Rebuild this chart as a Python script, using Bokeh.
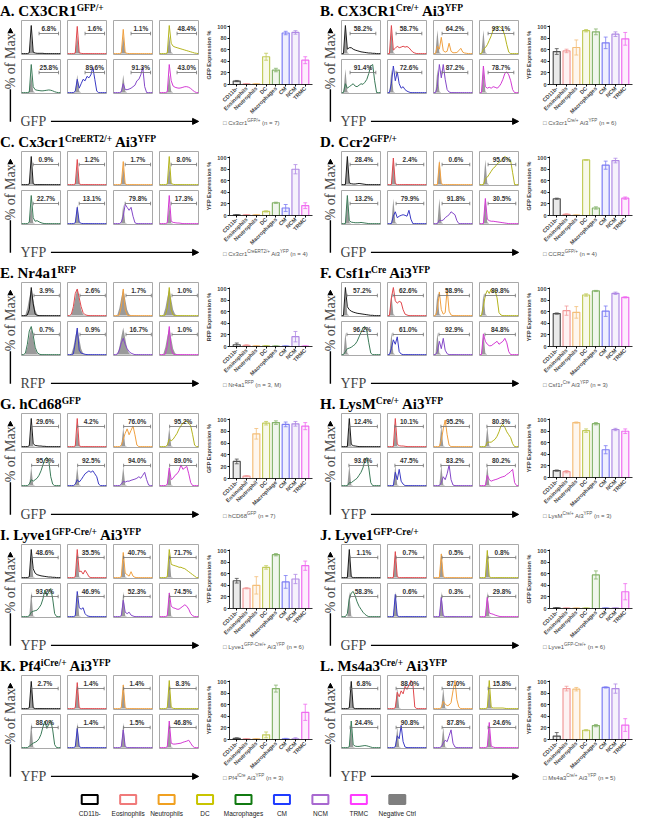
from math import pi

from bokeh.core.properties import value
from bokeh.embed import file_html
from bokeh.layouts import column, row
from bokeh.models import Arrow, ColumnDataSource, Div, FactorRange, Label, NormalHead, Range1d
from bokeh.plotting import figure
from bokeh.resources import INLINE
from bokeh.transform import dodge

# fluorescence channel bins (% of axis) shared by every histogram
BINS = [0, 5, 10, 15, 20, 25, 30, 35, 40, 45, 50, 55, 60, 65, 70, 75, 80, 85, 90, 95, 100]

CELLS = ["CD11b-", "Eosinophils", "Neutrophils", "DC", "Macrophages", "CM", "NCM", "TRMC"]
CELLS_G = ["CD11b-", "Eosinophil", "Neutrophil", "DC", "Macrophage", "CM", "NCM", "TRMC"]
LEGEND_NAMES = ["CD11b-", "Eosinophils", "Neutrophils", "DC", "Macrophages", "CM", "NCM", "TRMC", "Negative Ctrl"]

HIST_COLORS = ["#1a1a1a", "#e0474c", "#f0a040", "#b4b41e", "#3b7a58", "#3a3ac4", "#8448c8", "#d33ad3"]
BAR_COLORS = ["#505050", "#f29a9a", "#f4bf7a", "#c2cc5c", "#86b46c", "#7c7cf4", "#b08ae4", "#f06cf0"]
LEGEND_LINE = ["#000000", "#f07a7a", "#f0a020", "#c8c400", "#117a11", "#1f3cff", "#a868d0", "#ff3cff", "#7f7f7f"]
LEGEND_FILL = ["white", "white", "white", "white", "white", "white", "white", "white", "#7f7f7f"]
CTRL_COLOR = "#9a9a9a"

# ---- A. CX3CR1 GFP/+
HIST_A = [
    [0, 0, 0, 0, 3, 95, 5, 2, 1, 1, 1, 1, 0, 0, 0, 0, 0, 0, 0, 0, 0],
    [0, 0, 0, 0, 2, 92, 3, 1, 0, 0, 0, 0, 0, 0, 0, 0, 0, 0, 0, 0, 0],
    [0, 0, 0, 0, 2, 82, 3, 1, 0, 0, 0, 0, 0, 0, 0, 0, 0, 0, 0, 0, 0],
    [0, 0, 0, 0, 2, 95, 35, 25, 22, 20, 18, 16, 14, 12, 10, 8, 6, 4, 2, 1, 0],
    [0, 0, 0, 0, 2, 95, 20, 10, 8, 7, 6, 6, 7, 8, 9, 8, 6, 3, 1, 0, 0],
    [0, 0, 0, 0, 5, 45, 15, 30, 45, 40, 55, 50, 60, 85, 45, 5, 0, 0, 0, 0, 0],
    [0, 0, 0, 0, 3, 30, 10, 10, 12, 15, 20, 25, 40, 45, 60, 85, 20, 0, 0, 0, 0],
    [0, 0, 0, 0, 3, 95, 40, 22, 18, 16, 15, 16, 18, 20, 20, 18, 14, 8, 3, 0, 0],
]
CTRL_A = [0, 0, 0, 0, 4, 60, 5, 0, 0, 0, 0, 0, 0, 0, 0, 0, 0, 0, 0, 0, 0]
PCT_A = ["6.8%", "1.6%", "1.1%", "48.4%", "25.8%", "89.6%", "91.3%", "43.0%"]
GATE_A = [45, 95]
BAR_A = [6, 1, 1, 48, 25, 89, 90, 42]
ERR_A = [1, 0.5, 0.5, 6, 3, 3, 3, 6]

# ---- B. CX3CR1 Cre/+ Ai3 YFP
HIST_B = [
    [0, 0, 95, 15, 20, 20, 15, 12, 10, 8, 6, 5, 4, 3, 2, 2, 1, 1, 0, 0, 0],
    [0, 0, 95, 12, 18, 25, 20, 22, 25, 22, 24, 20, 12, 5, 2, 0, 0, 0, 0, 0, 0],
    [0, 0, 25, 15, 55, 10, 5, 8, 35, 8, 3, 3, 4, 10, 18, 5, 2, 1, 0, 0, 0],
    [0, 0, 15, 20, 30, 45, 60, 80, 90, 85, 92, 88, 80, 60, 30, 5, 0, 0, 0, 0, 0],
    [0, 0, 30, 15, 20, 25, 30, 22, 20, 25, 30, 28, 35, 45, 65, 90, 95, 40, 0, 0, 0],
    [0, 0, 30, 90, 40, 70, 30, 15, 20, 10, 5, 2, 0, 0, 0, 0, 0, 0, 0, 0, 0],
    [0, 0, 20, 95, 50, 95, 45, 10, 2, 0, 0, 0, 0, 0, 0, 0, 0, 0, 0, 0, 0],
    [0, 0, 90, 20, 15, 18, 15, 20, 18, 15, 20, 30, 45, 65, 70, 60, 40, 10, 0, 0, 0],
]
CTRL_B = [0, 0, 80, 4, 0, 0, 0, 0, 0, 0, 0, 0, 0, 0, 0, 0, 0, 0, 0, 0, 0]
PCT_B = ["58.2%", "58.7%", "64.2%", "93.1%", "91.4%", "72.6%", "87.2%", "78.7%"]
GATE_B = [22, 88]
BAR_B = [57, 58, 64, 93, 91, 72, 87, 79]
ERR_B = [5, 3, 13, 2, 5, 10, 4, 11]

# ---- C. Cx3cr1 CreERT2/+ Ai3 YFP
HIST_C = [
    [0, 0, 0, 0, 2, 95, 3, 0, 0, 0, 0, 0, 0, 0, 0, 0, 0, 0, 0, 0, 0],
    [0, 0, 0, 0, 2, 85, 3, 0, 0, 0, 0, 0, 0, 0, 0, 0, 0, 0, 0, 0, 0],
    [0, 0, 0, 0, 2, 78, 2, 0, 0, 0, 0, 0, 0, 0, 0, 0, 0, 0, 0, 0, 0],
    [0, 0, 0, 0, 2, 95, 4, 1, 0, 0, 0, 0, 0, 0, 0, 0, 0, 0, 0, 0, 0],
    [0, 0, 0, 0, 5, 95, 20, 8, 10, 6, 3, 1, 0, 0, 0, 0, 0, 0, 0, 0, 0],
    [0, 0, 0, 0, 3, 55, 5, 1, 0, 0, 0, 0, 0, 0, 0, 0, 0, 0, 0, 0, 0],
    [0, 0, 0, 0, 5, 25, 65, 55, 45, 55, 25, 3, 0, 0, 0, 0, 0, 0, 0, 0, 0],
    [0, 0, 0, 0, 3, 95, 8, 4, 3, 2, 2, 1, 0, 0, 0, 0, 0, 0, 0, 0, 0],
]
CTRL_C = [0, 0, 0, 0, 3, 65, 3, 0, 0, 0, 0, 0, 0, 0, 0, 0, 0, 0, 0, 0, 0]
PCT_C = ["0.9%", "1.2%", "1.7%", "8.0%", "22.7%", "13.1%", "79.8%", "17.3%"]
GATE_C = [30, 95]
BAR_C = [1, 1, 1, 7, 22, 13, 80, 17]
ERR_C = [0.5, 0.5, 0.5, 1, 1, 6, 8, 5]

# ---- D. Ccr2 GFP/+
HIST_D = [
    [0, 0, 0, 95, 6, 3, 2, 2, 3, 4, 3, 2, 1, 0, 0, 0, 0, 0, 0, 0, 0],
    [0, 0, 0, 90, 3, 0, 0, 0, 0, 0, 0, 0, 0, 0, 0, 0, 0, 0, 0, 0, 0],
    [0, 0, 0, 75, 3, 0, 0, 0, 0, 0, 0, 0, 0, 0, 0, 0, 0, 0, 0, 0, 0],
    [0, 0, 0, 20, 25, 35, 45, 55, 60, 70, 75, 80, 90, 95, 90, 85, 80, 40, 0, 0, 0],
    [0, 0, 0, 95, 10, 5, 4, 3, 3, 3, 4, 3, 2, 1, 0, 0, 0, 0, 0, 0, 0],
    [0, 0, 0, 25, 40, 20, 25, 28, 30, 28, 25, 45, 15, 0, 0, 0, 0, 0, 0, 0, 0],
    [0, 0, 0, 12, 10, 12, 20, 25, 30, 40, 35, 30, 10, 0, 0, 0, 0, 0, 0, 0, 0],
    [0, 0, 0, 85, 15, 10, 8, 8, 7, 6, 5, 4, 3, 2, 1, 0, 0, 0, 0, 0, 0],
]
CTRL_D = [0, 0, 0, 85, 5, 0, 0, 0, 0, 0, 0, 0, 0, 0, 0, 0, 0, 0, 0, 0, 0]
PCT_D = ["28.4%", "2.4%", "0.6%", "95.6%", "13.2%", "79.9%", "91.8%", "30.5%"]
GATE_D = [22, 93]
BAR_D = [29, 2, 0.5, 96, 13, 87, 95, 30]
ERR_D = [1, 1, 0.3, 0.5, 2, 7, 4, 2]

# ---- E. Nr4a1 RFP
HIST_E = [
    [0, 0, 0, 2, 20, 95, 40, 5, 1, 0, 0, 0, 0, 0, 0, 0, 0, 0, 0, 0, 0],
    [0, 0, 5, 30, 75, 90, 60, 30, 10, 3, 1, 0, 0, 0, 0, 0, 0, 0, 0, 0, 0],
    [0, 0, 0, 2, 30, 90, 20, 2, 0, 0, 0, 0, 0, 0, 0, 0, 0, 0, 0, 0, 0],
    [0, 0, 0, 2, 25, 95, 20, 2, 0, 0, 0, 0, 0, 0, 0, 0, 0, 0, 0, 0, 0],
    [0, 0, 5, 35, 80, 95, 65, 25, 8, 2, 0, 0, 0, 0, 0, 0, 0, 0, 0, 0, 0],
    [0, 0, 0, 2, 40, 90, 15, 5, 3, 1, 0, 0, 0, 0, 0, 0, 0, 0, 0, 0, 0],
    [0, 0, 2, 15, 40, 55, 35, 20, 10, 5, 2, 0, 0, 0, 0, 0, 0, 0, 0, 0, 0],
    [0, 0, 0, 2, 30, 95, 20, 2, 0, 0, 0, 0, 0, 0, 0, 0, 0, 0, 0, 0, 0],
]
CTRL_E = [0, 0, 3, 25, 60, 92, 55, 20, 5, 1, 0, 0, 0, 0, 0, 0, 0, 0, 0, 0, 0]
PCT_E = ["3.9%", "2.6%", "1.7%", "1.0%", "0.7%", "0.9%", "16.7%", "1.0%"]
GATE_E = [32, 97]
BAR_E = [3, 2, 1, 1, 0.5, 0.5, 17, 0.5]
ERR_E = [3, 1, 0.5, 0.5, 0.3, 0.3, 9, 0.3]

# ---- F. Csf1r Cre Ai3 YFP
HIST_F = [
    [0, 0, 95, 30, 20, 15, 12, 10, 8, 7, 6, 5, 4, 3, 2, 1, 1, 0, 0, 0, 0],
    [0, 0, 60, 95, 50, 42, 48, 45, 20, 5, 2, 0, 0, 0, 0, 0, 0, 0, 0, 0, 0],
    [0, 0, 20, 80, 20, 5, 10, 90, 15, 2, 0, 0, 0, 0, 0, 0, 0, 0, 0, 0, 0],
    [0, 0, 30, 70, 85, 75, 90, 80, 85, 60, 10, 2, 0, 0, 0, 0, 0, 0, 0, 0, 0],
    [0, 0, 10, 20, 22, 25, 30, 35, 45, 60, 75, 90, 95, 80, 40, 5, 0, 0, 0, 0, 0],
    [0, 0, 20, 50, 35, 60, 10, 2, 0, 0, 0, 0, 0, 0, 0, 0, 0, 0, 0, 0, 0],
    [0, 0, 10, 45, 20, 55, 15, 3, 0, 0, 0, 0, 0, 0, 0, 0, 0, 0, 0, 0, 0],
    [0, 0, 70, 45, 35, 30, 30, 35, 40, 45, 35, 40, 45, 55, 40, 10, 0, 0, 0, 0, 0],
]
CTRL_F = [0, 0, 75, 5, 0, 0, 0, 0, 0, 0, 0, 0, 0, 0, 0, 0, 0, 0, 0, 0, 0]
PCT_F = ["57.2%", "62.6%", "58.9%", "89.8%", "96.2%", "61.0%", "92.9%", "84.8%"]
GATE_F = [14, 92]
BAR_F = [57, 62, 59, 89, 96, 61, 92, 85]
ERR_F = [1, 8, 10, 2, 1, 9, 2, 1]

# ---- G. hCd68 GFP
HIST_G = [
    [0, 0, 0, 0, 3, 95, 10, 4, 3, 2, 2, 1, 1, 0, 0, 0, 0, 0, 0, 0, 0],
    [0, 0, 0, 0, 2, 95, 3, 0, 0, 0, 0, 0, 0, 0, 0, 0, 0, 0, 0, 0, 0],
    [0, 0, 0, 0, 5, 25, 45, 60, 40, 55, 70, 40, 5, 0, 0, 0, 0, 0, 0, 0, 0],
    [0, 0, 0, 0, 5, 25, 20, 25, 35, 45, 60, 70, 80, 85, 85, 80, 70, 40, 5, 0, 0],
    [0, 0, 0, 0, 5, 20, 15, 20, 25, 35, 50, 70, 90, 95, 85, 30, 5, 0, 0, 0, 0],
    [0, 0, 0, 0, 5, 20, 12, 20, 30, 40, 45, 50, 45, 50, 40, 30, 5, 0, 0, 0, 0],
    [0, 0, 0, 0, 5, 15, 12, 15, 15, 18, 20, 22, 25, 30, 25, 35, 45, 20, 2, 0, 0],
    [0, 0, 0, 0, 5, 60, 20, 25, 35, 40, 50, 70, 55, 60, 65, 40, 10, 0, 0, 0, 0],
]
CTRL_G = [0, 0, 0, 0, 3, 65, 3, 0, 0, 0, 0, 0, 0, 0, 0, 0, 0, 0, 0, 0, 0]
PCT_G = ["29.6%", "4.2%", "76.0%", "95.2%", "95.9%", "92.5%", "94.0%", "89.0%"]
GATE_G = [26, 95]
BAR_G = [29, 4, 76, 94, 95, 92, 93, 89]
ERR_G = [4, 1, 9, 3, 3, 4, 4, 6]

# ---- H. LysM Cre/+ Ai3 YFP
HIST_H = [
    [0, 0, 0, 0, 95, 8, 3, 2, 1, 0, 0, 0, 0, 0, 0, 0, 0, 0, 0, 0, 0],
    [0, 0, 0, 0, 95, 8, 3, 2, 2, 1, 0, 0, 0, 0, 0, 0, 0, 0, 0, 0, 0],
    [0, 0, 0, 0, 20, 60, 90, 40, 5, 0, 0, 0, 0, 0, 0, 0, 0, 0, 0, 0, 0],
    [0, 0, 0, 0, 15, 15, 15, 20, 25, 35, 50, 70, 75, 65, 50, 40, 30, 10, 0, 0, 0],
    [0, 0, 0, 0, 10, 10, 15, 20, 25, 35, 45, 60, 85, 95, 60, 10, 0, 0, 0, 0, 0],
    [0, 0, 0, 0, 45, 20, 55, 15, 5, 0, 0, 0, 0, 0, 0, 0, 0, 0, 0, 0, 0],
    [0, 0, 0, 0, 10, 30, 20, 40, 70, 20, 2, 0, 0, 0, 0, 0, 0, 0, 0, 0, 0],
    [0, 0, 0, 0, 35, 20, 15, 18, 20, 22, 25, 28, 30, 32, 38, 42, 48, 55, 10, 0, 0],
]
CTRL_H = [0, 0, 0, 0, 70, 3, 0, 0, 0, 0, 0, 0, 0, 0, 0, 0, 0, 0, 0, 0, 0]
PCT_H = ["12.4%", "10.1%", "95.2%", "80.3%", "93.6%", "47.5%", "83.2%", "80.2%"]
GATE_H = [19, 92]
BAR_H = [12, 10, 95, 81, 93, 48, 83, 80]
ERR_H = [1, 2, 1, 3, 2, 7, 2, 4]

# ---- I. Lyve1 GFP-Cre/+ Ai3 YFP
HIST_I = [
    [0, 0, 0, 0, 3, 95, 30, 15, 10, 8, 6, 5, 4, 3, 2, 2, 1, 1, 0, 0, 0],
    [0, 0, 0, 0, 3, 95, 20, 22, 12, 25, 15, 3, 0, 0, 0, 0, 0, 0, 0, 0, 0],
    [0, 0, 0, 0, 3, 85, 15, 10, 5, 20, 5, 1, 0, 0, 0, 0, 0, 0, 0, 0, 0],
    [0, 0, 0, 0, 3, 95, 45, 42, 40, 38, 35, 35, 32, 30, 25, 20, 15, 10, 5, 0, 0],
    [0, 0, 0, 0, 3, 15, 18, 20, 22, 30, 40, 60, 90, 70, 85, 95, 60, 10, 0, 0, 0],
    [0, 0, 0, 0, 3, 85, 30, 25, 30, 10, 3, 1, 0, 0, 0, 0, 0, 0, 0, 0, 0],
    [0, 0, 0, 0, 3, 55, 15, 10, 15, 5, 2, 0, 0, 0, 0, 0, 0, 0, 0, 0, 0],
    [0, 0, 0, 0, 3, 80, 35, 30, 28, 25, 25, 30, 35, 40, 35, 25, 10, 3, 0, 0, 0],
]
CTRL_I = [0, 0, 0, 0, 3, 85, 3, 0, 0, 0, 0, 0, 0, 0, 0, 0, 0, 0, 0, 0, 0]
PCT_I = ["48.6%", "35.5%", "40.7%", "71.7%", "93.2%", "46.9%", "52.3%", "74.5%"]
GATE_I = [26, 94]
BAR_I = [48, 35, 40, 71, 93, 46, 51, 74]
ERR_I = [4, 1, 15, 3, 2, 11, 8, 8]

# ---- J. Lyve1 GFP-Cre/+
HIST_J = [
    [0, 0, 0, 0, 95, 3, 0, 0, 0, 0, 0, 0, 0, 0, 0, 0, 0, 0, 0, 0, 0],
    [0, 0, 0, 0, 88, 3, 0, 0, 0, 0, 0, 0, 0, 0, 0, 0, 0, 0, 0, 0, 0],
    [0, 0, 0, 0, 80, 3, 0, 0, 0, 0, 0, 0, 0, 0, 0, 0, 0, 0, 0, 0, 0],
    [0, 0, 0, 0, 92, 3, 0, 0, 0, 0, 0, 0, 0, 0, 0, 0, 0, 0, 0, 0, 0],
    [0, 0, 0, 10, 60, 80, 85, 70, 50, 35, 25, 15, 8, 3, 0, 0, 0, 0, 0, 0, 0],
    [0, 0, 0, 0, 75, 3, 0, 0, 0, 0, 0, 0, 0, 0, 0, 0, 0, 0, 0, 0, 0],
    [0, 0, 0, 0, 65, 3, 0, 0, 0, 0, 0, 0, 0, 0, 0, 0, 0, 0, 0, 0, 0],
    [0, 0, 0, 0, 65, 12, 10, 8, 5, 3, 1, 0, 0, 0, 0, 0, 0, 0, 0, 0, 0],
]
CTRL_J = [0, 0, 0, 0, 85, 3, 0, 0, 0, 0, 0, 0, 0, 0, 0, 0, 0, 0, 0, 0, 0]
PCT_J = ["1.1%", "0.7%", "0.5%", "0.8%", "58.3%", "0.6%", "0.3%", "29.8%"]
GATE_J = [22, 93]
BAR_J = [1, 0.5, 0.5, 0.5, 58, 0.5, 0.5, 29]
ERR_J = [0.5, 0.3, 0.3, 0.3, 7, 0.3, 0.3, 14]

# ---- K. Pf4 iCre/+ Ai3 YFP
HIST_K = [
    [0, 0, 0, 0, 3, 92, 3, 0, 0, 0, 0, 0, 0, 0, 0, 0, 0, 0, 0, 0, 0],
    [0, 0, 0, 0, 3, 88, 3, 0, 0, 0, 0, 0, 0, 0, 0, 0, 0, 0, 0, 0, 0],
    [0, 0, 0, 0, 3, 80, 3, 0, 0, 0, 0, 0, 0, 0, 0, 0, 0, 0, 0, 0, 0],
    [0, 0, 0, 0, 3, 95, 5, 1, 0, 0, 0, 0, 0, 0, 0, 0, 0, 0, 0, 0, 0],
    [0, 0, 0, 0, 5, 10, 15, 18, 22, 30, 45, 70, 90, 65, 80, 92, 60, 10, 0, 0, 0],
    [0, 0, 0, 0, 3, 65, 4, 0, 0, 0, 0, 0, 0, 0, 0, 0, 0, 0, 0, 0, 0],
    [0, 0, 0, 0, 3, 60, 4, 0, 0, 0, 0, 0, 0, 0, 0, 0, 0, 0, 0, 0, 0],
    [0, 0, 0, 0, 3, 90, 15, 12, 12, 13, 14, 15, 18, 20, 22, 25, 15, 5, 0, 0, 0],
]
CTRL_K = [0, 0, 0, 0, 3, 85, 3, 0, 0, 0, 0, 0, 0, 0, 0, 0, 0, 0, 0, 0, 0]
PCT_K = ["2.7%", "1.4%", "1.4%", "8.3%", "88.0%", "1.4%", "1.5%", "46.8%"]
GATE_K = [26, 94]
BAR_K = [2, 1, 1, 8, 88, 1, 1, 47]
ERR_K = [1, 0.5, 0.5, 5, 6, 1, 2, 14]

# ---- L. Ms4a3 Cre/+ Ai3 YFP
HIST_L = [
    [0, 0, 0, 0, 3, 92, 3, 0, 0, 0, 0, 0, 0, 0, 0, 0, 0, 0, 0, 0, 0],
    [0, 0, 0, 0, 3, 55, 40, 60, 50, 75, 65, 80, 95, 85, 5, 0, 0, 0, 0, 0, 0],
    [0, 0, 0, 0, 3, 25, 15, 10, 12, 20, 60, 95, 30, 5, 0, 0, 0, 0, 0, 0, 0],
    [0, 0, 0, 0, 3, 95, 5, 2, 2, 2, 2, 2, 2, 1, 0, 0, 0, 0, 0, 0, 0],
    [0, 0, 0, 0, 3, 90, 10, 5, 4, 4, 5, 6, 7, 6, 4, 2, 0, 0, 0, 0, 0],
    [0, 0, 0, 0, 3, 40, 30, 75, 20, 2, 0, 0, 0, 0, 0, 0, 0, 0, 0, 0, 0],
    [0, 0, 0, 0, 3, 15, 25, 20, 40, 60, 15, 2, 0, 0, 0, 0, 0, 0, 0, 0, 0],
    [0, 0, 0, 0, 3, 85, 5, 2, 0, 0, 0, 0, 0, 0, 0, 0, 0, 0, 0, 0, 0],
]
CTRL_L = [0, 0, 0, 0, 3, 70, 3, 0, 0, 0, 0, 0, 0, 0, 0, 0, 0, 0, 0, 0, 0]
PCT_L = ["6.8%", "88.0%", "87.0%", "15.8%", "24.4%", "90.8%", "87.8%", "24.6%"]
GATE_L = [22, 93]
BAR_L = [6, 88, 87, 16, 24, 90, 88, 25]
ERR_L = [6, 4, 3, 1, 2, 1, 8, 11]

# title, marker, histograms, control, percentages, gate, bars, errors, categories, note
PANELS = [
    ("A. CX3CR1<sup>GFP/+</sup>", "GFP", HIST_A, CTRL_A, PCT_A, GATE_A, BAR_A, ERR_A, CELLS,
     "Cx3cr1<sup>GFP/+</sup> (n = 7)"),
    ("B. CX3CR1<sup>Cre/+</sup> Ai3<sup>YFP</sup>", "YFP", HIST_B, CTRL_B, PCT_B, GATE_B, BAR_B, ERR_B, CELLS,
     "Cx3cr1<sup>Cre/+</sup> Ai3<sup>YFP</sup> (n = 6)"),
    ("C. Cx3cr1<sup>CreERT2/+</sup> Ai3<sup>YFP</sup>", "YFP", HIST_C, CTRL_C, PCT_C, GATE_C, BAR_C, ERR_C, CELLS,
     "Cx3cr1<sup>CreERT2/+</sup> Ai3<sup>YFP</sup> (n = 4)"),
    ("D. Ccr2<sup>GFP/+</sup>", "GFP", HIST_D, CTRL_D, PCT_D, GATE_D, BAR_D, ERR_D, CELLS,
     "CCR2<sup>GFP/+</sup> (n = 4)"),
    ("E. Nr4a1<sup>RFP</sup>", "RFP", HIST_E, CTRL_E, PCT_E, GATE_E, BAR_E, ERR_E, CELLS,
     "Nr4a1<sup>RFP</sup> (n = 3, M)"),
    ("F. Csf1r<sup>Cre</sup> Ai3<sup>YFP</sup>", "YFP", HIST_F, CTRL_F, PCT_F, GATE_F, BAR_F, ERR_F, CELLS,
     "Csf1r<sup>Cre</sup> Ai3<sup>YFP</sup> (n = 3)"),
    ("G. hCd68<sup>GFP</sup>", "GFP", HIST_G, CTRL_G, PCT_G, GATE_G, BAR_G, ERR_G, CELLS_G,
     "hCD68<sup>GFP</sup> (n = 7)"),
    ("H. LysM<sup>Cre/+</sup> Ai3<sup>YFP</sup>", "YFP", HIST_H, CTRL_H, PCT_H, GATE_H, BAR_H, ERR_H, CELLS,
     "LysM<sup>Cre/+</sup> Ai3<sup>YFP</sup> (n = 3)"),
    ("I. Lyve1<sup>GFP-Cre/+</sup> Ai3<sup>YFP</sup>", "YFP", HIST_I, CTRL_I, PCT_I, GATE_I, BAR_I, ERR_I, CELLS,
     "Lyve1<sup>GFP-Cre/+</sup> Ai3<sup>YFP</sup> (n = 6)"),
    ("J. Lyve1<sup>GFP-Cre/+</sup>", "GFP", HIST_J, CTRL_J, PCT_J, GATE_J, BAR_J, ERR_J, CELLS,
     "Lyve1<sup>GFP-Cre/+</sup> (n = 6)"),
    ("K. Pf4<sup>iCre/+</sup> Ai3<sup>YFP</sup>", "YFP", HIST_K, CTRL_K, PCT_K, GATE_K, BAR_K, ERR_K, CELLS,
     "Pf4<sup>iCre</sup> Ai3<sup>YFP</sup> (n = 3)"),
    ("L. Ms4a3<sup>Cre/+</sup> Ai3<sup>YFP</sup>", "YFP", HIST_L, CTRL_L, PCT_L, GATE_L, BAR_L, ERR_L, CELLS,
     "Ms4a3<sup>Cre/+</sup> Ai3<sup>YFP</sup> (n = 5)"),
]

SANS = "Liberation Sans"
SERIF = "Liberation Serif"
GATE_Y = 68
CELL_W, CELL_H = 41, 36
TITLE_H = 19
LEFT_H = 110


def bare(p):
    p.xgrid.visible = False
    p.ygrid.visible = False
    return p


def hist_cell(values, ctrl, color, pct, gate):
    p = bare(figure(width=CELL_W, height=CELL_H, x_range=Range1d(0, 100), y_range=Range1d(-3, 112),
                    toolbar_location=None, output_backend="svg", min_border=1,
                    x_axis_location=None, y_axis_location=None))
    p.outline_line_color = "#a9a9a9"
    p.varea(x=BINS, y1=0, y2=ctrl, fill_color=CTRL_COLOR)
    p.line(BINS, values, line_color=color, line_width=1)
    p.segment(x0=[gate[0]], y0=[GATE_Y], x1=[gate[1]], y1=[GATE_Y], line_color="#707070", line_width=0.8)
    p.segment(x0=gate, y0=[GATE_Y - 6, GATE_Y - 6], x1=gate, y1=[GATE_Y + 6, GATE_Y + 6],
              line_color="#707070", line_width=0.8)
    p.add_layout(Label(x=(gate[0] + gate[1]) / 2, y=GATE_Y + 6, text=pct, text_align="center",
                       text_baseline="bottom", text_font=SANS, text_font_size="6.5px",
                       text_font_style="bold", text_color="#333333"))
    return p


def y_arrow():
    p = bare(figure(width=18, height=LEFT_H, x_range=Range1d(0, 1), y_range=Range1d(0, 1),
                    toolbar_location=None, output_backend="svg", min_border=0,
                    x_axis_location=None, y_axis_location=None, outline_line_color=None))
    p.add_layout(Arrow(end=NormalHead(size=6, fill_color="black", line_color="black"),
                       x_start=0.55, y_start=0.07, x_end=0.55, y_end=0.92, line_width=1.4))
    p.add_layout(Label(x=0.55, y=0.62, text="% of Max", angle=pi / 2, text_align="center",
                       text_baseline="middle", text_font=SERIF, text_font_size="14px",
                       background_fill_color="white"))
    return p


def x_arrow(marker):
    p = bare(figure(width=4 * CELL_W + 15, height=18, x_range=Range1d(0, 1), y_range=Range1d(0, 1),
                    toolbar_location=None, output_backend="svg", min_border=0,
                    x_axis_location=None, y_axis_location=None, outline_line_color=None))
    p.add_layout(Label(x=0.0, y=0.45, text=marker, text_baseline="middle", text_font=SERIF,
                       text_font_size="14px"))
    p.add_layout(Arrow(end=NormalHead(size=6, fill_color="black", line_color="black"),
                       x_start=0.17, y_start=0.45, x_end=0.995, y_end=0.45, line_width=1.4))
    return p


def bar_chart(cats, vals, errs, ylabel):
    src = ColumnDataSource(dict(
        cat=cats, val=vals,
        lo=[max(v - e, 0) for v, e in zip(vals, errs)],
        hi=[v + e for v, e in zip(vals, errs)],
        color=BAR_COLORS,
    ))
    p = bare(figure(width=112, height=100, x_range=FactorRange(*cats, range_padding=0.06),
                    y_range=Range1d(0, 102), toolbar_location=None, output_backend="svg",
                    min_border_left=26, min_border_right=3, min_border_top=6, min_border_bottom=34))
    p.outline_line_color = None
    p.vbar(x="cat", top="val", width=0.72, source=src, line_color="color", fill_color="color",
           fill_alpha=0.12, line_width=1.2)
    p.segment(x0="cat", y0="lo", x1="cat", y1="hi", source=src, line_color="color", line_width=0.8)
    for end in ("lo", "hi"):
        p.segment(x0=dodge("cat", -0.2, range=p.x_range), y0=end,
                  x1=dodge("cat", 0.2, range=p.x_range), y1=end,
                  source=src, line_color="color", line_width=0.8)
    p.yaxis.ticker = [0, 20, 40, 60, 80, 100]
    p.yaxis.axis_label = ylabel
    p.yaxis.axis_label_text_font = SANS
    p.yaxis.axis_label_text_font_size = "5.5px"
    p.yaxis.axis_label_text_font_style = "bold"
    p.yaxis.axis_label_standoff = 2
    p.axis.major_label_text_font = SANS
    p.axis.major_label_text_font_size = "5.5px"
    p.axis.major_label_text_font_style = "bold"
    p.axis.major_label_standoff = 1
    p.axis.major_tick_out = 2
    p.axis.major_tick_in = 0
    p.axis.minor_tick_out = 0
    p.axis.minor_tick_in = 0
    p.axis.axis_line_width = 0.8
    p.xaxis.major_label_orientation = pi / 4
    return p


def title_div(html):
    html = html.replace("<sup>", '<sup style="font-size:9.5px;vertical-align:5px;line-height:0">')
    return Div(text='<div style="padding-top:4px">' + html + "</div>", width=315, height=TITLE_H, margin=0,
               styles={"font-family": SERIF, "font-weight": "bold", "font-size": "15px",
                       "line-height": "15px", "white-space": "nowrap"})


def note_div(html):
    html = html.replace("<sup>", '<sup style="font-size:4.5px;line-height:0">')
    return Div(text='<div style="padding-left:20px;text-align:center">&#9633; ' + html + "</div>",
               width=112, height=12, margin=0,
               styles={"font-family": SANS, "font-size": "6px", "color": "#555555",
                       "white-space": "nowrap"})


def half(panel):
    title, marker, hist, ctrl, pct, gate, bars, errs, cats, note = panel
    cells = [hist_cell(hist[i], ctrl, HIST_COLORS[i], pct[i], gate) for i in range(8)]
    grid = column(row(cells[:4], spacing=5), row(cells[4:], spacing=5), spacing=3)
    left = row(y_arrow(), column(grid, x_arrow(marker), spacing=LEFT_H - 2 * CELL_H - 3 - 18), spacing=2)
    right = column(bar_chart(cats, bars, errs, marker + " Expression %"), note_div(note))
    return column(title_div(title), row(left, right, spacing=4))


def legend_fig():
    p = bare(figure(width=635, height=34, x_range=FactorRange(*LEGEND_NAMES), y_range=Range1d(0, 1),
                    toolbar_location=None, output_backend="svg", min_border_left=70,
                    min_border_right=219, min_border_top=0, min_border_bottom=0,
                    x_axis_location=None, y_axis_location=None, outline_line_color=None))
    p.rect(x=LEGEND_NAMES, y=0.62, width=16, height=9, width_units="screen", height_units="screen",
           fill_color=LEGEND_FILL, line_color=LEGEND_LINE, line_width=2)
    p.text(x=LEGEND_NAMES, y=0.2, text=LEGEND_NAMES, text_align="center", text_baseline="middle",
           text_font=value(SANS), text_font_size="6.5px", text_color="#222222")
    return p


rows = [row(half(PANELS[i]), half(PANELS[i + 1]), spacing=5) for i in range(0, 12, 2)]
page = column(*rows, legend_fig())

with open("out.html", "w") as f:
    f.write(file_html(page, INLINE, title="Reporter expression in cardiac myeloid cells"))
